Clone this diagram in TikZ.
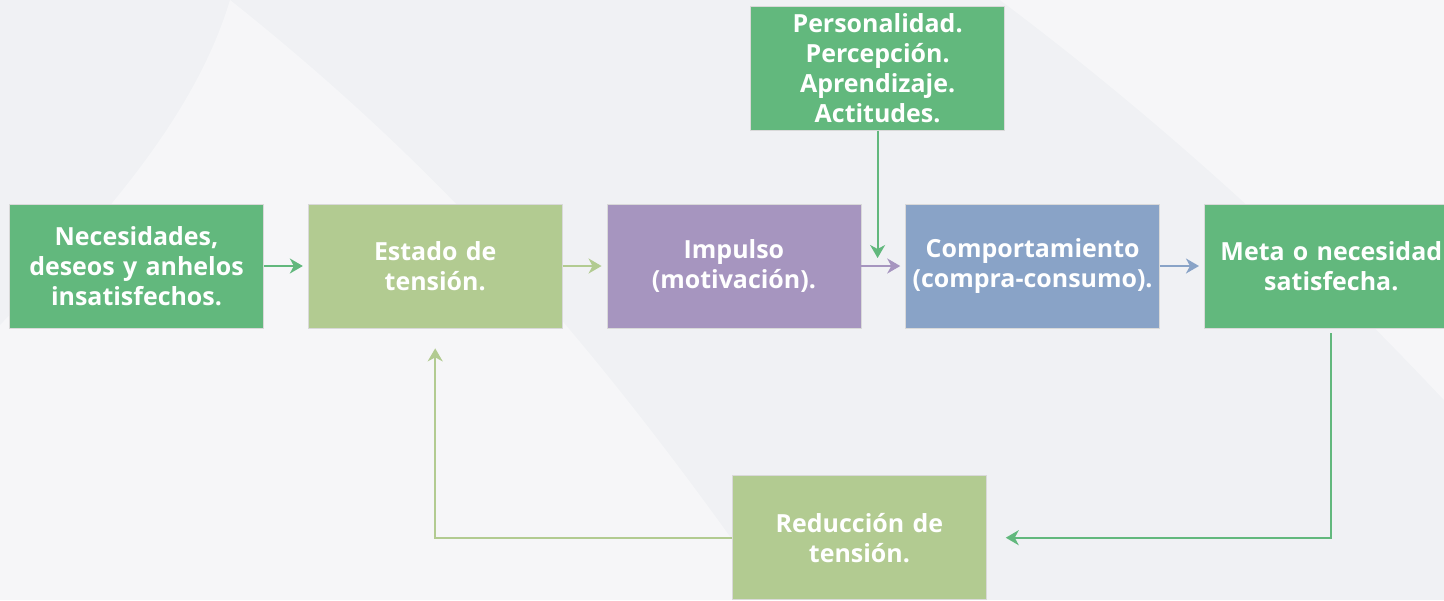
\documentclass[tikz,border=0pt]{standalone}
\usepackage{fontspec}
\setmainfont{Open Sans}
\usepackage{xcolor}
\usetikzlibrary{arrows.meta, positioning}

\definecolor{dgreen}{HTML}{62B87D}
\definecolor{lgreen}{HTML}{B2CB91}
\definecolor{lilac}{HTML}{A695BF}
\definecolor{steel}{HTML}{89A3C7}
\definecolor{backg}{HTML}{F0F1F4}

\begin{document}
\begin{tikzpicture}[
    node distance=0.88cm,
    box/.style={rectangle, draw=white!70!gray, line width=0.4pt, text=white,
      minimum width=5.08cm, minimum height=2.48cm, text width=5.0cm, inner sep=0.04cm,
      align=center, font=\fontsize{14.2}{17}\selectfont\bfseries},
    link/.style={-{Stealth[length=0.26cm, width=0.3cm, inset=0.08cm]}, line width=1.1pt}
]

% background
\fill[backg] (0,0) rectangle (28.88,-12);
\fill[white, opacity=0.4] (4.6,0) .. controls (9,-3.5) and (12,-7) .. (15.5,-12) -- (0,-12) -- (0,-6.5) .. controls (2.5,-4) and (4,-2) .. (4.6,0);
\fill[white, opacity=0.4] (20,0) .. controls (24,-3) and (27,-6) .. (28.88,-8) -- (28.88,0) -- cycle;
\useasboundingbox (0,0) rectangle (28.88,-12);

\node (nec) [box, fill=dgreen] at (2.73,-5.32) {Necesidades,\\deseos y anhelos\\insatisfechos.};
\node (est) [box, fill=lgreen, right=of nec] {Estado de\\tensión.};
\node (imp) [box, fill=lilac, right=of est] {Impulso\\(motivación).};
\node (comp)[box, fill=steel, right=of imp] {Comportamiento\\(compra-consumo).};
\node (meta)[box, fill=dgreen, right=of comp] {Meta o necesidad\\satisfecha.};
\node (pers)[box, fill=dgreen, above=1.46cm of comp, xshift=-3.1cm] {Personalidad.\\Percepción.\\Aprendizaje.\\Actitudes.};
\node (red) [box, fill=lgreen, below=2.94cm of imp, xshift=2.51cm] {Reducción de\\tensión.};

\draw [link, dgreen, shorten >=0.1cm] (nec) -- (est);
\draw [link, lgreen, shorten >=0.1cm] (est) -- (imp);
\draw [link, lilac, shorten >=0.1cm] (imp) -- (comp);
\draw [link, steel, shorten >=0.1cm] (comp) -- (meta);
\draw [link, dgreen] (pers) -- ([yshift=0.16cm]pers.south |- imp.east);
\draw [link, dgreen, shorten <=0.1cm, shorten >=0.38cm] (meta) |- (red);
\draw [link, lgreen, shorten >=0.4cm] (red) -| (est);

\end{tikzpicture}
\end{document}
